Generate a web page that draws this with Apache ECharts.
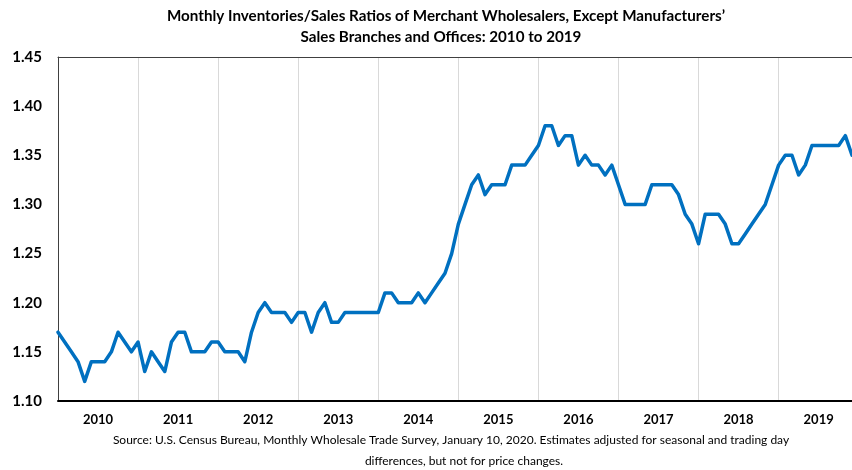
<!DOCTYPE html>
<html>
<head>
<meta charset="utf-8">
<script src="https://cdn.jsdelivr.net/npm/echarts@6/dist/echarts.min.js"></script>
<style>html,body{margin:0;padding:0;background:#fff}#c{width:852px;height:470px}</style>
</head>
<body>
<div id="c"></div>
<script>
// Year tick labels (category axis labels shown mid-year)
const years = ['2010','2011','2012','2013','2014','2015','2016','2017','2018','2019'];
const monthNums = ['01','02','03','04','05','06','07','08','09','10','11','12'];

// Monthly inventories/sales ratio, one array per year (Jan..Dec)
const r2010 = [1.17,1.16,1.15,1.14,1.12,1.14,1.14,1.14,1.15,1.17,1.16,1.15];
const r2011 = [1.16,1.13,1.15,1.14,1.13,1.16,1.17,1.17,1.15,1.15,1.15,1.16];
const r2012 = [1.16,1.15,1.15,1.15,1.14,1.17,1.19,1.20,1.19,1.19,1.19,1.18];
const r2013 = [1.19,1.19,1.17,1.19,1.20,1.18,1.18,1.19,1.19,1.19,1.19,1.19];
const r2014 = [1.19,1.21,1.21,1.20,1.20,1.20,1.21,1.20,1.21,1.22,1.23,1.25];
const r2015 = [1.28,1.30,1.32,1.33,1.31,1.32,1.32,1.32,1.34,1.34,1.34,1.35];
const r2016 = [1.36,1.38,1.38,1.36,1.37,1.37,1.34,1.35,1.34,1.34,1.33,1.34];
const r2017 = [1.32,1.30,1.30,1.30,1.30,1.32,1.32,1.32,1.32,1.31,1.29,1.28];
const r2018 = [1.26,1.29,1.29,1.29,1.28,1.26,1.26,1.27,1.28,1.29,1.30,1.32];
const r2019 = [1.34,1.35,1.35,1.33,1.34,1.36,1.36,1.36,1.36,1.36,1.37,1.35];

const titleLines = [
  'Monthly Inventories/Sales Ratios of Merchant Wholesalers, Except Manufacturers\u2019',
  'Sales Branches and Offices: 2010 to 2019'
];
const sourceLines = [
  'Source: U.S. Census Bureau, Monthly Wholesale Trade Survey, January 10, 2020. Estimates adjusted for seasonal and trading day',
  'differences, but not for price changes.'
];

const months = [];
years.forEach(y => monthNums.forEach(m => months.push(y + '-' + m)));
const ratios = [].concat(r2010, r2011, r2012, r2013, r2014, r2015, r2016, r2017, r2018, r2019);

const FONT = 'Lato, "Liberation Sans", Arial, sans-serif';
const chart = echarts.init(document.getElementById('c'), null, {renderer: 'canvas'});
chart.setOption({
  animation: false,
  grid: {left: 58, top: 57, bottom: 69, right: -2, show: false},
  xAxis: [{
    type: 'category',
    data: months,
    boundaryGap: false,
    axisLine: {show: true, lineStyle: {color: '#000', width: 2}},
    axisTick: {show: false},
    axisLabel: {
      interval: (idx) => idx % 12 === 6,
      formatter: (v) => v.slice(0, 4),
      color: '#000', fontWeight: 'bold', fontSize: 13, fontFamily: FONT, margin: 12
    },
    splitLine: {show: true, interval: (idx) => idx % 12 === 0 && idx > 0, lineStyle: {color: '#d9d9d9', width: 1}}
  }, {
    type: 'category',
    data: months,
    position: 'top',
    boundaryGap: false,
    axisLine: {show: true, lineStyle: {color: '#404040', width: 1}},
    axisTick: {show: false},
    axisLabel: {show: false},
    splitLine: {show: false}
  }],
  yAxis: {
    type: 'value',
    min: 1.10, max: 1.45, interval: 0.05,
    axisLine: {show: true, lineStyle: {color: '#404040', width: 1}},
    axisTick: {show: false},
    splitLine: {show: false},
    axisLabel: {formatter: (v) => v.toFixed(2), color: '#000', fontWeight: 'bold', fontSize: 15, fontFamily: FONT, margin: 16}
  },
  series: [{
    type: 'line',
    data: ratios,
    showSymbol: false,
    smooth: false,
    lineStyle: {color: '#0070C0', width: 3.5, join: 'round', cap: 'round'},
    itemStyle: {color: '#0070C0'}
  }],
  graphic: [
    {type: 'text', x: 446, y: 16, style: {text: titleLines[0], textAlign: 'center', textVerticalAlign: 'middle', fill: '#000', font: 'bold 15.2px ' + FONT}},
    {type: 'text', x: 441, y: 37, style: {text: titleLines[1], textAlign: 'center', textVerticalAlign: 'middle', fill: '#000', font: 'bold 15.2px ' + FONT}},
    {type: 'text', x: 451, y: 440, style: {text: sourceLines[0], textAlign: 'center', textVerticalAlign: 'middle', fill: '#000', font: '12px ' + FONT}},
    {type: 'text', x: 464, y: 461, style: {text: sourceLines[1], textAlign: 'center', textVerticalAlign: 'middle', fill: '#000', font: '12px ' + FONT}}
  ]
});
</script>
</body>
</html>
